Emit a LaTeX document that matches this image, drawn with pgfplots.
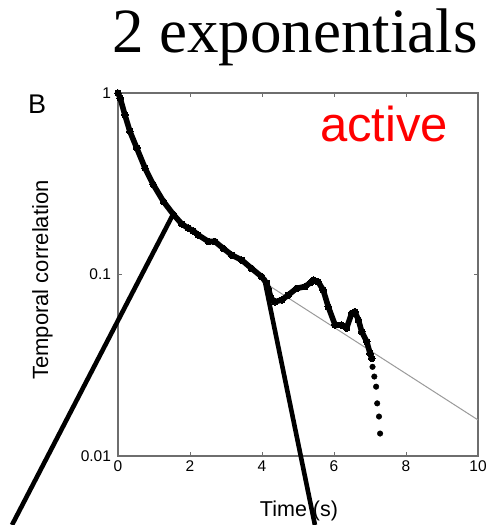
\documentclass[border=0pt]{standalone}
\usepackage{pgfplots}
\pgfplotsset{compat=1.18}
\usepackage{fontspec}
\setmainfont{Liberation Sans}
\newfontfamily\seriffont{Liberation Serif}
\definecolor{framegray}{HTML}{6E6E6E}
\definecolor{fitgray}{HTML}{9A9A9A}

% temporal correlation, active cell: main decay and the scattered tail
\pgfplotstableread{
x     c
0.00  1.000
0.06  0.938
0.19  0.759
0.33  0.615
0.52  0.498
0.75  0.386
0.98  0.313
1.26  0.253
1.54  0.214
1.77  0.190
1.95  0.180
2.09  0.174
2.23  0.165
2.51  0.152
2.69  0.152
2.93  0.139
3.16  0.128
3.44  0.120
3.71  0.108
3.99  0.0973
4.13  0.0895
4.18  0.0832
4.25  0.0741
4.36  0.0708
4.55  0.0724
4.73  0.0771
4.96  0.0839
5.19  0.0857
5.35  0.0902
5.43  0.0933
5.56  0.0912
5.70  0.0822
5.84  0.0665
6.03  0.0527
6.21  0.0527
6.35  0.0506
6.49  0.0611
6.58  0.0624
6.68  0.0561
6.77  0.0484
6.91  0.0427
7.00  0.0368
7.05  0.0345
}\maindecay
\pgfplotstableread{
x     c
7.07  0.0310
7.12  0.0274
7.17  0.0241
7.20  0.0195
7.25  0.0165
7.28  0.0133
}\taildots

\begin{document}
\begin{tikzpicture}
\path[use as bounding box] (-118pt,-69pt) rectangle (378pt,456pt);

\node[anchor=base, inner sep=0, font=\fontsize{21.5}{25}\selectfont] at (181pt,-60.7pt) {Time (s)};
\node[rotate=90, inner sep=0, font=\fontsize{22}{26}\selectfont] at (-75.5pt,176pt) {Temporal correlation};

\begin{axis}[
  at={(0pt,0pt)}, anchor=south west, scale only axis,
  width=360pt, height=363pt,
  ymode=log, xmin=0, xmax=10, ymin=0.01, ymax=1,
  xtick={0,2,...,10},
  ytick={0.01,0.1,1}, yticklabels={0.01,0.1,1},
  yminorticks=false,
  tick align=inside, major tick length=4pt,
  axis line style={framegray, line width=1.6pt},
  tick style={framegray, line width=1pt},
  tick label style={font=\fontsize{15.5}{18}\selectfont, /pgf/number format/assume math mode=true},
  yticklabel style={xshift=-3.5pt},
  xticklabel style={yshift=-1pt},
  clip=false,
]
% single-exponential fit of the slow component
\addplot[fitgray, line width=1pt] coordinates {(4.0,0.0920) (10,0.0158)};
\addplot[black, line width=5.6pt, line join=round, line cap=round,
  mark=*, mark size=3.3pt, mark options={line width=0pt}] table[x=x, y=c] {\maindecay};
\addplot[black, only marks, mark=*, mark size=2.8pt] table[x=x, y=c] {\taildots};
% pointers to the two break points of the decay
\addplot[black, line width=4.6pt] coordinates {(1.50,0.209) (-2.944,0.00417)};
\addplot[black, line width=4.6pt] coordinates {(4.06,0.0957) (5.47,0.00417)};
\end{axis}

\node[anchor=base east, inner sep=0, font=\seriffont\fontsize{63}{70}\selectfont] at (360pt,403pt) {2 exponentials};
\node[anchor=base west, inner sep=0, font=\fontsize{27}{30}\selectfont] at (-90pt,342pt) {B};
\node[anchor=base west, inner sep=0, text=red, font=\fontsize{49}{55}\selectfont] at (202pt,314.3pt) {active};
\end{tikzpicture}
\end{document}
